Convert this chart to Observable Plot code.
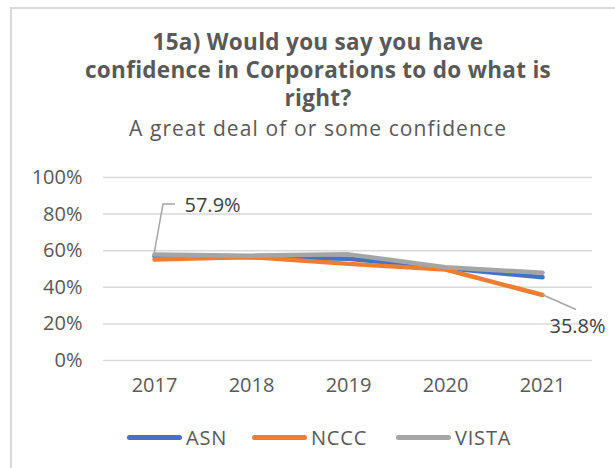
<!DOCTYPE html>
<html>
<head>
<meta charset="utf-8">
<script src="https://cdn.jsdelivr.net/npm/d3@7"></script>
<script src="https://cdn.jsdelivr.net/npm/@observablehq/plot@0.6"></script>
<style>
  html, body { margin: 0; padding: 0; background: #fff; overflow: hidden; }
  body { width: 615px; height: 468px; position: relative; font-family: "Open Sans", Lato, sans-serif; color: #595959; }
  #frame { position: absolute; left: 10px; top: 7px; width: 700px; height: 600px; border-left: 2px solid #d9d9d9; border-top: 2px solid #d9d9d9; }
  .tl { position: absolute; left: 318px; white-space: nowrap; transform: translateX(-50%); line-height: 1; }
  .bold { font-weight: 700; font-size: 22.5px; letter-spacing: 0.3px; }
  .sub { font-size: 21px; font-weight: 400; letter-spacing: 1.1px; }
  #chart { position: absolute; left: 0; top: 145px; }
  #legend { position: absolute; left: 0; top: 425px; width: 615px; height: 26px; font-size: 20px; letter-spacing: 0.8px; }
  .li { position: absolute; top: 0; display: flex; align-items: center; height: 24px; }
  .sw { width: 55px; height: 5px; border-radius: 3px; margin-right: 4px; }
</style>
</head>
<body>
<div id="frame"></div>
<div class="tl bold" style="top:31px;">15a) Would you say you have</div>
<div class="tl bold" style="top:59px;">confidence in Corporations to do what is</div>
<div class="tl bold" style="top:87px;">right?</div>
<div class="tl sub" style="top:118px;">A great deal of or some confidence</div>
<div id="chart"></div>
<div id="legend"></div>
<script>
const years = ["2017", "2018", "2019", "2020", "2021"];
const seriesNames = ["ASN", "NCCC", "VISTA"];
const asn = [57.0, 56.4, 55.6, 50.5, 45.5];
const nccc = [55.2, 56.5, 52.8, 49.7, 35.8];
const vista = [57.9, 57.3, 58.0, 51.0, 47.9];
const yTicks = [0, 20, 40, 60, 80, 100];
const colors = ["#4472C4", "#ED7D31", "#A5A5A5"];
// labelled points
const labelSeries = ["VISTA", "NCCC"];
const labelYears = ["2017", "2021"];
const labelValues = [57.9, 35.8];

const seriesValues = [asn, nccc, vista];
const data = [];
seriesNames.forEach((s, i) => years.forEach((y, j) => data.push({series: s, year: y, value: seriesValues[i][j]})));
const labels = labelSeries.map((s, i) => ({series: s, year: labelYears[i], value: labelValues[i], text: labelValues[i].toFixed(1) + "%"}));

function leaders(index, scales) {
  const g = d3.create("svg:g");
  const p0x = scales.x(labels[0].year), p0y = scales.y(labels[0].value);
  g.append("path").attr("d", `M${p0x},${p0y}L${p0x + 9},${p0y - 50}L${p0x + 21},${p0y - 50}`)
    .attr("fill", "none").attr("stroke", "#a6a6a6").attr("stroke-width", 1.5);
  const p1x = scales.x(labels[1].year), p1y = scales.y(labels[1].value);
  g.append("path").attr("d", `M${p1x},${p1y}L${p1x + 34},${p1y + 15}`)
    .attr("fill", "none").attr("stroke", "#a6a6a6").attr("stroke-width", 1.5);
  return g.node();
}

const chart = Plot.plot({
  width: 615,
  height: 260,
  marginLeft: 103,
  marginRight: 23,
  marginTop: 32,
  marginBottom: 45,
  style: {fontFamily: "'Open Sans', Lato, sans-serif", fontSize: "20px", color: "#595959", background: "transparent", overflow: "visible"},
  x: {type: "point", domain: years, padding: 0.5, label: null, tickSize: 0, tickPadding: 17},
  y: {domain: [0, 100], ticks: yTicks, tickFormat: d => d + "%", label: null, tickSize: 0, tickPadding: 21},
  color: {domain: seriesNames, range: colors},
  marks: [
    Plot.ruleY(yTicks, {stroke: "#d9d9d9", strokeWidth: 1.5, strokeOpacity: 1}),
    Plot.line(data, {x: "year", y: "value", z: "series", stroke: "series", strokeWidth: 4.5, strokeLinecap: "round", strokeLinejoin: "round"}),
    leaders,
    Plot.text(labels.slice(0, 1), {x: "year", y: "value", text: "text", dx: 30, dy: -49, textAnchor: "start", fill: "#404040", fontSize: 20}),
    Plot.text(labels.slice(1), {x: "year", y: "value", text: "text", dx: 35, dy: 32, textAnchor: "middle", fill: "#404040", fontSize: 20})
  ]
});
document.getElementById("chart").appendChild(chart);

const legendX = [127, 252, 396];
const leg = document.getElementById("legend");
seriesNames.forEach((s, i) => {
  const item = document.createElement("div");
  item.className = "li";
  item.style.left = legendX[i] + "px";
  item.innerHTML = `<div class="sw" style="background:${colors[i]}"></div><span>${s}</span>`;
  leg.appendChild(item);
});
</script>
</body>
</html>
